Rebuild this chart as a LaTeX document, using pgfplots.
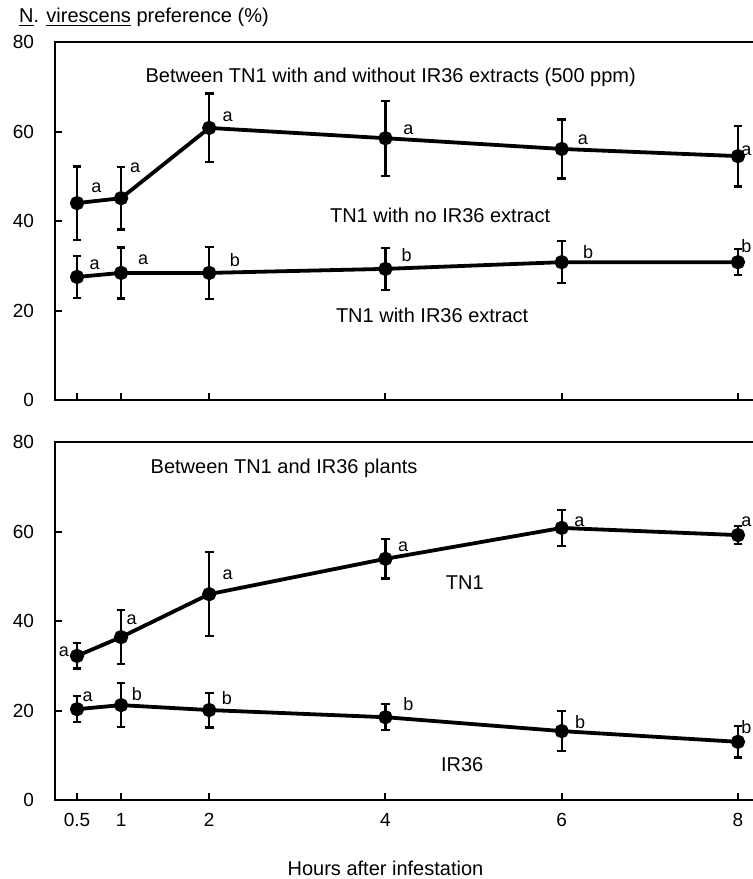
\documentclass[border=0pt]{standalone}
\usepackage{fontspec}
\setmainfont{Liberation Sans}
\usepackage{pgfplots}
\pgfplotsset{compat=1.18}

\pgfplotsset{
  panel/.style={
    scale only axis, width=354.7pt, height=179pt,
    xmin=0.25, xmax=8.3, ymin=0, ymax=80,
    xtick={0.5,1,2,4,6,8}, ytick={0,20,40,60,80},
    xtick pos=bottom, ytick pos=left,
    tick align=inside, major tick length=3.5pt,
    axis line style={line width=1.3pt},
    every tick/.style={line width=1pt, black},
    tick label style={font=\fontsize{9.5}{11}\selectfont},
    /pgf/number format/assume math mode=true,
    yticklabel style={xshift=-7pt},
    xticklabel style={yshift=-3pt},
    clip=false,
  },
  series/.style={black, line width=1.9pt, mark=*, mark size=2.6pt,
    error bars/.cd, y dir=both, y explicit,
    error bar style={line width=1.1pt},
    error mark options={rotate=90, mark size=2.2pt, line width=1.1pt}},
}
\tikzset{
  lab/.style={font=\fontsize{9}{10}\selectfont},
  edge/.style={lab, anchor=east, inner sep=0.4pt},
  txt/.style={font=\fontsize{10}{12}\selectfont},
}

\begin{document}
\begin{tikzpicture}

% top panel: TN1 with / without IR36 extract
\begin{axis}[panel, name=top, at={(0,200pt)}, xticklabels={}]
\addplot[series] table[x=x, y=y, y error=e] {
x y e
0.5 44.0 8.2
1 45.1 7.0
2 60.8 7.7
4 58.5 8.4
6 56.1 6.6
8 54.5 6.8
};
\addplot[series] table[x=x, y=y, y error=e] {
x y e
0.5 27.5 4.7
1 28.4 5.7
2 28.4 5.8
4 29.3 4.7
6 30.8 4.7
8 30.8 2.9
};
\node[txt] at (axis cs:4.06,72) {Between TN1 with and without IR36 extracts (500 ppm)};
\node[txt] at (axis cs:4.62,41.3) {TN1 with no IR36 extract};
\node[txt] at (axis cs:4.53,19.0) {TN1 with IR36 extract};
\node[lab] at (axis cs:0.72,47.4) {a};
\node[lab] at (axis cs:1.16,51.8) {a};
\node[lab] at (axis cs:2.21,63.2) {a};
\node[lab] at (axis cs:4.26,60.3) {a};
\node[lab] at (axis cs:6.24,58.1) {a};
\node[edge] at (axis cs:8.165,55.6) {a};
\node[lab] at (axis cs:0.70,30.2) {a};
\node[lab] at (axis cs:1.25,31.3) {a};
\node[lab] at (axis cs:2.29,31.3) {b};
\node[lab] at (axis cs:4.24,32.4) {b};
\node[lab] at (axis cs:6.30,33.1) {b};
\node[edge] at (axis cs:8.165,34.4) {b};
\end{axis}

% bottom panel: TN1 and IR36 plants
\begin{axis}[panel, name=bot, at={(0,0)}]
\addplot[series] table[x=x, y=y, y error=e] {
x y e
0.5 32.2 2.8
1 36.4 6.0
2 46.0 9.4
4 53.9 4.4
6 60.8 4.0
8 59.2 2.0
};
\addplot[series] table[x=x, y=y, y error=e] {
x y e
0.5 20.3 2.9
1 21.2 4.9
2 20.1 3.9
4 18.5 2.9
6 15.4 4.5
8 13.0 3.5
};
\node[txt] at (axis cs:2.85,74.2) {Between TN1 and IR36 plants};
\node[txt] at (axis cs:4.90,48.5) {TN1};
\node[txt] at (axis cs:4.87,7.8) {IR36};
\node[lab] at (axis cs:0.35,33.1) {a};
\node[lab] at (axis cs:1.12,40.2) {a};
\node[lab] at (axis cs:2.21,50.3) {a};
\node[lab] at (axis cs:4.20,56.5) {a};
\node[lab] at (axis cs:6.20,62.1) {a};
\node[edge] at (axis cs:8.165,62.1) {a};
\node[lab] at (axis cs:0.62,23.0) {a};
\node[lab] at (axis cs:1.18,23.7) {b};
\node[lab] at (axis cs:2.20,22.8) {b};
\node[lab] at (axis cs:4.26,21.4) {b};
\node[lab] at (axis cs:6.21,17.4) {b};
\node[edge] at (axis cs:8.165,16.2) {b};
\node[txt] at (axis cs:4.0,-15.2) {Hours after infestation};
\end{axis}

\node[anchor=west, txt] at ([xshift=-21.5pt, yshift=12.5pt]top.north west)
  {\underline{N}. \underline{virescens} preference (\%)};

% the reference is cut off just right of the 8 h points
\pgfresetboundingbox
\path[use as bounding box] (-27.5pt,-39.5pt) rectangle (349pt,400pt);
\end{tikzpicture}
\end{document}
